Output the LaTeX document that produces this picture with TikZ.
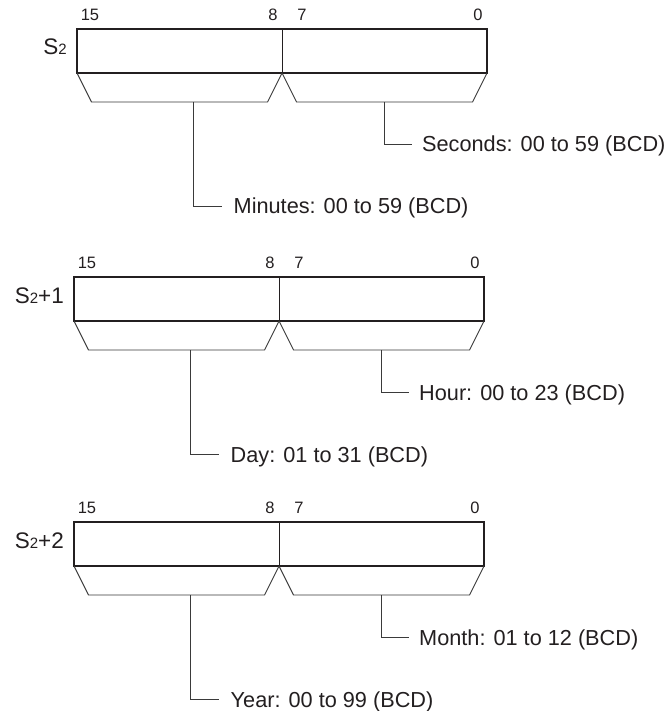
\documentclass[tikz,border=0pt]{standalone}
\usepackage{fontspec}
\setmainfont{Liberation Sans}
\usetikzlibrary{calc}
\definecolor{ink}{HTML}{231F20}
\definecolor{linegray}{HTML}{3A3A3A}
\tikzset{
  field/.style={draw=none, minimum width=205pt, minimum height=44pt, inner sep=0pt, outer sep=0pt},
  frame/.style={draw=ink, line width=2.6pt, line join=miter},
  divline/.style={draw=ink, line width=0.9pt},
  brace/.style={draw=linegray, line width=0.9pt, line join=miter},
  desc/.style={text=ink, font=\fontsize{21.7}{26}\selectfont, inner ysep=0pt, text height=16pt, text depth=0pt, anchor=west},
  descR/.style={desc, inner xsep=10pt},
  descL/.style={desc, inner xsep=11.5pt},
  bitnum/.style={text=ink, font=\fontsize{16.5}{20}\selectfont, inner sep=0pt, anchor=base},
  regname/.style={text=ink, font=\fontsize{22.5}{27}\selectfont, inner sep=0pt, anchor=base east}
}
\newcommand{\subtwo}{{\fontsize{15}{15}\selectfont 2}}
\newcommand{\regword}[6]{%
\begin{scope}[shift={(#2,-#3)}]
  \node[field, anchor=north west] (#1hi) at (0,0) {};
  \node[field, anchor=north west] (#1lo) at (205,0) {};
  \draw[frame] (#1hi.north west) rectangle (#1lo.south east);
  \draw[divline] (#1hi.north east) -- (#1hi.south east);
  \draw[brace] (#1hi.south west) -- ++(14.5,-29) -- ($(#1hi.south east)+(-14.5,-29)$) -- (#1hi.south east);
  \draw[brace] (#1lo.south west) -- ++(14.5,-29) -- ($(#1lo.south east)+(-14.5,-29)$) -- (#1lo.south east);
  \coordinate (#1hs) at (116,-73);
  \coordinate (#1ls) at (307,-73);
  \node[descR] (#1rl) at (335,-115) {#5};
  \node[descL] (#1ll) at (145,-177) {#6};
  \draw[brace] (#1ls) |- (#1rl.west);
  \draw[brace] (#1hs) |- (#1ll.west);
  \node[bitnum] (#1b15) at (13,8.5) {15};
  \node[bitnum] (#1b8) at (196,8.5) {8};
  \node[bitnum] (#1b7) at (225,8.5) {7};
  \node[bitnum] (#1b0) at (401,8.5) {0};
  \node[regname] (#1name) at (-10,-26) {#4};
\end{scope}}
\begin{document}
\begin{tikzpicture}[x=1pt,y=1pt]
\useasboundingbox (0,0) rectangle (669,-711);
\regword{wa}{77}{29}{S\subtwo}{Seconds: 00 to 59 (BCD)}{Minutes: 00 to 59 (BCD)}
\regword{wb}{74}{277}{S\subtwo+1}{Hour: 00 to 23 (BCD)}{Day: 01 to 31 (BCD)}
\regword{wc}{74}{522}{S\subtwo+2}{Month: 01 to 12 (BCD)}{Year: 00 to 99 (BCD)}
\end{tikzpicture}
\end{document}
